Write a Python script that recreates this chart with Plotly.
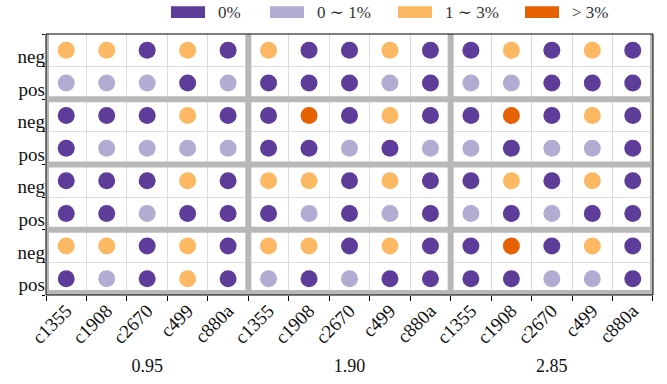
import plotly.graph_objects as go
from plotly.subplots import make_subplots

# ---- data -------------------------------------------------------------
circuits = ["c1355", "c1908", "c2670", "c499", "c880a"]
thresholds = ["0.95", "1.90", "2.85"]
signs = ["neg", "pos"]

bin_labels = ["0%", "0 ∼ 1%", "1 ∼ 3%", "> 3%"]
bin_colors = ["#5e3c99", "#b2abd2", "#fdb863", "#e66101"]

# bin index per circuit, one list per threshold (0.95, 1.90, 2.85)
group1_neg = [[2, 2, 0, 2, 0], [2, 0, 0, 2, 0], [0, 2, 0, 2, 0]]
group1_pos = [[1, 1, 1, 0, 1], [0, 0, 0, 1, 0], [1, 1, 0, 0, 0]]
group2_neg = [[0, 0, 0, 2, 0], [0, 3, 0, 2, 0], [0, 3, 0, 2, 0]]
group2_pos = [[0, 1, 1, 1, 1], [0, 0, 1, 0, 1], [1, 0, 1, 1, 0]]
group3_neg = [[0, 0, 0, 2, 0], [2, 2, 0, 2, 0], [0, 2, 0, 2, 0]]
group3_pos = [[0, 0, 1, 0, 0], [0, 1, 0, 1, 0], [1, 0, 1, 0, 0]]
group4_neg = [[2, 2, 0, 2, 0], [2, 2, 0, 2, 0], [0, 3, 0, 2, 0]]
group4_pos = [[0, 1, 0, 2, 0], [1, 0, 1, 0, 0], [0, 0, 1, 1, 0]]

groups = [
    (group1_neg, group1_pos),
    (group2_neg, group2_pos),
    (group3_neg, group3_pos),
    (group4_neg, group4_pos),
]

# ---- figure geometry (pixels) -----------------------------------------
FIG_W, FIG_H = 667, 384
M_L, M_R, M_T, M_B = 46, 14, 34, 87
PW, PH = FIG_W - M_L - M_R, FIG_H - M_T - M_B

SERIF = "Liberation Serif, DejaVu Serif, serif"
BAND = "#b8b8b8"
GRID = "#dcdcdc"

n_rows, n_cols = len(groups), len(thresholds)
fig = make_subplots(rows=n_rows, cols=n_cols,
                    horizontal_spacing=0, vertical_spacing=0)

for r, (neg, pos) in enumerate(groups, start=1):
    for c in range(n_cols):
        for b, (label, color) in enumerate(zip(bin_labels, bin_colors)):
            xs, ys = [], []
            for sign, levels in (("neg", neg[c]), ("pos", pos[c])):
                for circ, lv in zip(circuits, levels):
                    if lv == b:
                        xs.append(circ)
                        ys.append(sign)
            fig.add_trace(
                go.Scatter(x=xs, y=ys, mode="markers", name=label,
                           legendgroup=label, showlegend=False,
                           marker=dict(size=17, color=color, line=dict(width=0))),
                row=r, col=c + 1)

fig.update_xaxes(type="category", categoryorder="array", categoryarray=circuits,
                 range=[-0.5, len(circuits) - 0.5], tickson="boundaries",
                 showgrid=True, gridcolor=GRID, gridwidth=1,
                 showline=False, zeroline=False, showticklabels=False, ticks="")
fig.update_yaxes(type="category", categoryorder="array", categoryarray=signs[::-1],
                 range=[-0.5, len(signs) - 0.5], tickson="boundaries",
                 showgrid=True, gridcolor=GRID, gridwidth=1,
                 showline=False, zeroline=False, showticklabels=False, ticks="")

for c in range(n_cols):
    fig.update_xaxes(row=n_rows, col=c + 1, showticklabels=True, ticks="outside",
                     ticklen=5, tickwidth=1, tickcolor="black", tickangle=-45,
                     tickfont=dict(family=SERIF, size=19, color="#111"),
                     title=dict(text=thresholds[c], standoff=12,
                                font=dict(family=SERIF, size=18, color="#111")))
for r in range(n_rows):
    fig.update_yaxes(row=r + 1, col=1, showticklabels=True, ticks="outside",
                     ticklen=3, tickwidth=1, tickcolor="black",
                     ticklabelshift=6,
                     tickfont=dict(family=SERIF, size=19, color="#111"))

# ---- panel separators and frame ---------------------------------------
def fx(px):
    return px / PW


def fy(px):
    return px / PH


shapes = []
for k in range(1, n_cols):
    xc = k / n_cols
    shapes.append(dict(type="rect", xref="paper", yref="paper",
                       x0=xc - fx(3), x1=xc + fx(3), y0=0, y1=1,
                       fillcolor=BAND, line=dict(width=0)))
for k in range(1, n_rows):
    yc = k / n_rows
    shapes.append(dict(type="rect", xref="paper", yref="paper",
                       x0=0, x1=1, y0=yc - fy(3), y1=yc + fy(3),
                       fillcolor=BAND, line=dict(width=0)))
shapes.append(dict(type="rect", xref="paper", yref="paper",
                   x0=0, x1=fx(3), y0=0, y1=1, fillcolor=BAND, line=dict(width=0)))
shapes.append(dict(type="rect", xref="paper", yref="paper",
                   x0=1 - fx(3), x1=1, y0=0, y1=1, fillcolor=BAND, line=dict(width=0)))
shapes.append(dict(type="rect", xref="paper", yref="paper",
                   x0=0, x1=1, y0=0, y1=fy(5), fillcolor=BAND, line=dict(width=0)))
shapes.append(dict(type="rect", xref="paper", yref="paper",
                   x0=0, x1=1, y0=0, y1=1, fillcolor="rgba(0,0,0,0)",
                   line=dict(color="black", width=1)))

# ---- legend row (swatches + labels) across the top ---------------------
swatch_left = [171, 270, 398, 525]  # pixel x of each swatch
SW_W, SW_TOP, SW_BOT = 34, 6, 18
annotations = []
for left, label, color in zip(swatch_left, bin_labels, bin_colors):
    shapes.append(dict(type="rect", xref="paper", yref="paper",
                       x0=fx(left - M_L), x1=fx(left + SW_W - M_L),
                       y0=fy(PH + M_T - SW_BOT), y1=fy(PH + M_T - SW_TOP),
                       fillcolor=color, line=dict(width=0)))
    annotations.append(dict(xref="paper", yref="paper",
                            x=fx(left + SW_W + 11 - M_L),
                            y=fy(PH + M_T - (SW_TOP + SW_BOT) / 2),
                            xanchor="left", yanchor="middle", showarrow=False,
                            text=label,
                            font=dict(family=SERIF, size=17, color="#333")))

fig.update_layout(
    width=FIG_W, height=FIG_H,
    margin=dict(l=M_L, r=M_R, t=M_T, b=M_B),
    paper_bgcolor="white", plot_bgcolor="white",
    showlegend=False, shapes=shapes, annotations=annotations,
)

fig.write_html("out.html")
